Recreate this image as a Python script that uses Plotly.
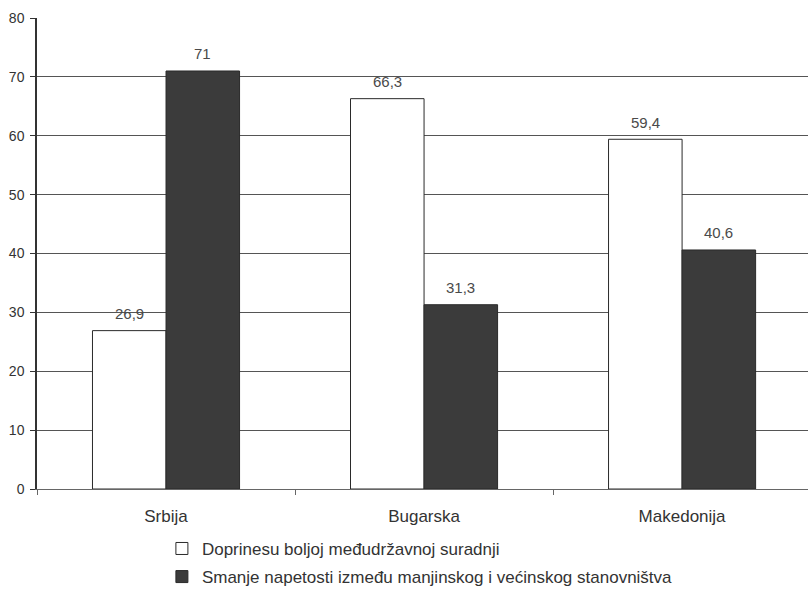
import plotly.graph_objects as go

categories = ["Srbija", "Bugarska", "Makedonija"]
series1_name = "Doprinesu boljoj međudržavnoj suradnji"
series1 = [26.9, 66.3, 59.4]
series2_name = "Smanje napetosti između manjinskog i većinskog stanovništva"
series2 = [71, 31.3, 40.6]
y_ticks = [0, 10, 20, 30, 40, 50, 60, 70, 80]

BARGAP = 0.43


def fmt(v):
    s = ("%g" % v)
    return s.replace(".", ",")


fig = go.Figure()
fig.add_trace(go.Bar(
    x=categories, y=series1, name=series1_name,
    marker=dict(color="white", line=dict(color="#2a2a2a", width=1)),
    legendgroup="a",
))
fig.add_trace(go.Bar(
    x=categories, y=series2, name=series2_name,
    marker=dict(color="#3b3b3b", line=dict(color="#2a2a2a", width=1)),
    legendgroup="b",
))

# value labels above bars, positioned in data coordinates
half = (1 - BARGAP) / 4
annotations = []
for i, (a, b) in enumerate(zip(series1, series2)):
    for off, v in ((-half, a), (half, b)):
        annotations.append(dict(
            x=i + off, y=v, xref="x", yref="y", text=fmt(v),
            showarrow=False, yanchor="middle", yshift=17,
            font=dict(size=15, color="#4a4a4a", family="Liberation Sans, Arial"),
        ))

fig.update_layout(
    width=808, height=589,
    margin=dict(l=37, r=0, t=18, b=100, autoexpand=False),
    paper_bgcolor="white", plot_bgcolor="white",
    barmode="group", bargap=BARGAP, bargroupgap=0,
    font=dict(family="Liberation Sans, Arial", size=14, color="#333333"),
    showlegend=True,
    annotations=annotations,
    legend=dict(
        orientation="v", x=0.162, xanchor="left", y=-0.089, yanchor="top",
        font=dict(size=17, color="#333333"),
        traceorder="grouped", tracegroupgap=3, itemwidth=30,
        bgcolor="rgba(0,0,0,0)",
    ),
    xaxis=dict(
        range=[-0.5, 2.488], showgrid=False, automargin=False,
        ticks="outside", tickson="boundaries", ticklen=5, tickcolor="#666666",
        showline=True, linecolor="#666666", linewidth=1,
        tickfont=dict(size=17, color="#333333"), ticklabelstandoff=12,
    ),
    yaxis=dict(
        range=[0, 80], tickvals=y_ticks, showgrid=True, automargin=False,
        gridcolor="#555555", gridwidth=1,
        ticks="outside", ticklen=5, tickcolor="#333333",
        showline=True, linecolor="#333333", linewidth=1.5,
        zeroline=False, tickfont=dict(size=14, color="#333333"),
        ticklabelstandoff=3,
    ),
)

fig.write_html(
    "out.html",
    config={"displayModeBar": False},
    post_script="document.body.style.margin='0';document.body.style.overflow='hidden';",
)
